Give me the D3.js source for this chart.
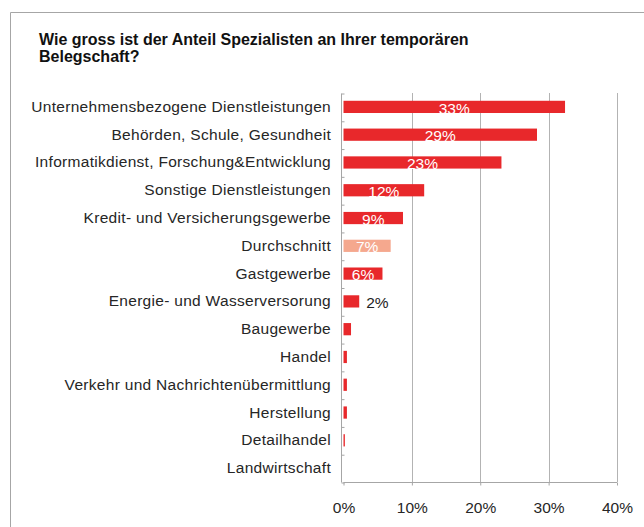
<!DOCTYPE html>
<html>
<head>
<meta charset="utf-8">
<script src="https://cdn.jsdelivr.net/npm/d3@7"></script>
<style>
  body { margin: 0; background: #fff; }
  text { font-family: "Liberation Sans", Arial, sans-serif; }
</style>
</head>
<body>
<script>
const categories = [
    'Unternehmensbezogene Dienstleistungen',
    'Behörden, Schule, Gesundheit',
    'Informatikdienst, Forschung&Entwicklung',
    'Sonstige Dienstleistungen',
    'Kredit- und Versicherungsgewerbe',
    'Durchschnitt',
    'Gastgewerbe',
    'Energie- und Wasserversorung',
    'Baugewerbe',
    'Handel',
    'Verkehr und Nachrichtenübermittlung',
    'Herstellung',
    'Detailhandel',
    'Landwirtschaft'
];
const values = [32.4, 28.3, 23.1, 11.8, 8.7, 6.9, 5.7, 2.3, 1.1, 0.5, 0.5, 0.5, 0.2, 0];
const labels = ['33%', '29%', '23%', '12%', '9%', '7%', '6%', '2%', '', '', '', '', '', ''];
const xTicks = [0, 10, 20, 30, 40];

const width = 644;
const height = 527;

const svg = d3.select('body')
    .append('svg')
    .attr('width', width)
    .attr('height', height);

// frame
svg.append('path')
    .attr('d', `M10.5,${height}V12.5H${width}`)
    .attr('fill', 'none')
    .attr('stroke', '#a6a6a6');

const title = svg.append('text')
    .attr('font-size', 16)
    .attr('font-weight', 'bold')
    .attr('fill', '#111');
title.append('tspan')
    .attr('x', 39).attr('y', 45)
    .text('Wie gross ist der Anteil Spezialisten an Ihrer temporären');
title.append('tspan')
    .attr('x', 39).attr('y', 61.5)
    .text('Belegschaft?');

const x = d3.scaleLinear().domain([0, 40]).range([343.5, 617]);
const y = d3.scaleBand().domain(categories).range([93, 482]).paddingInner(0.56).paddingOuter(0.28);

// grid
svg.append('g')
    .selectAll('line')
    .data(xTicks.slice(1))
    .join('line')
    .attr('x1', (d) => Math.round(x(d)) + 0.5)
    .attr('x2', (d) => Math.round(x(d)) + 0.5)
    .attr('y1', 93)
    .attr('y2', 482)
    .attr('stroke', '#b3b3b3');

// bars
svg.append('g')
    .selectAll('rect')
    .data(categories)
    .join('rect')
    .attr('x', x(0))
    .attr('y', (d) => y(d))
    .attr('width', (d, i) => x(values[i]) - x(0))
    .attr('height', y.bandwidth())
    .attr('fill', (d) => d === 'Durchschnitt' ? '#f5a88e' : '#e8282b');

// value labels
svg.append('g')
    .selectAll('text')
    .data(categories)
    .join('text')
    .attr('x', (d, i) => i === 7 ? x(values[i]) + 7 : (x(0) + x(values[i])) / 2)
    .attr('y', (d) => y(d) + y.bandwidth() + 0.5)
    .attr('text-anchor', (d, i) => i === 7 ? 'start' : 'middle')
    .attr('font-size', 15.5)
    .attr('fill', (d, i) => i === 7 ? '#222' : '#fff')
    .text((d, i) => labels[i]);

// y axis
const yAxis = d3.axisLeft(d3.scaleLinear().domain([0, 14]).range([482, 93]))
    .ticks(14)
    .tickSize(3)
    .tickFormat('');
const yg = svg.append('g').call(yAxis);
yg.attr('transform', `translate(${Math.round(x(0)) + 0.5},0.5)`);
yg.selectAll('path, line').attr('stroke', '#a6a6a6');
yg.select('.domain').attr('d', 'M-3,93V482');

svg.append('g')
    .selectAll('text')
    .data(categories)
    .join('text')
    .attr('x', 331)
    .attr('y', (d) => y(d) + y.bandwidth() / 2 + 5)
    .attr('text-anchor', 'end')
    .attr('font-size', 15.5)
    .attr('letter-spacing', 0.3)
    .attr('fill', '#262626')
    .text((d) => d);

// x axis
const xAxis = d3.axisBottom(x)
    .tickValues(xTicks)
    .tickSize(3)
    .tickPadding(16)
    .tickFormat((d) => d + '%');
const xg = svg.append('g').attr('transform', 'translate(0,482.5)').call(xAxis);
xg.selectAll('path, line').attr('stroke', '#a6a6a6');
xg.select('.domain').attr('d', `M${x(0)},0H${x(40)}`);
xg.selectAll('text')
    .attr('font-size', 15.5)
    .attr('fill', '#262626')
    .attr('font-family', '"Liberation Sans", Arial, sans-serif');
</script>
</body>
</html>
